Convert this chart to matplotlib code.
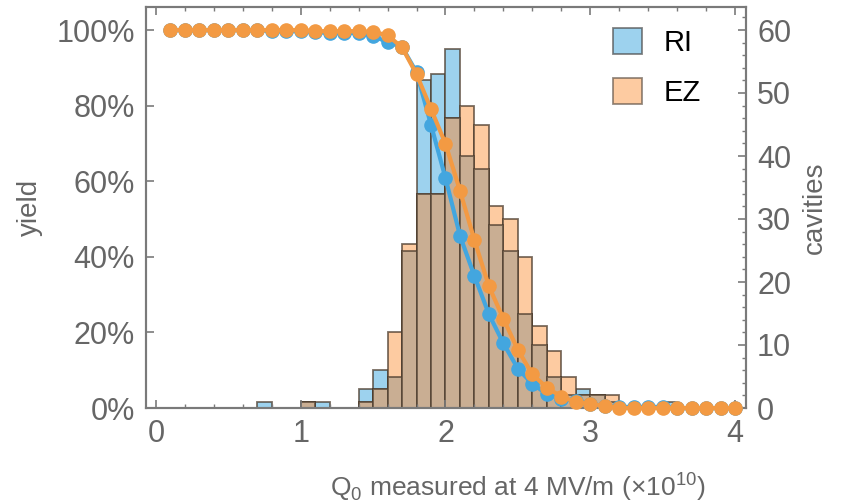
import numpy as np
import matplotlib
matplotlib.use("Agg")
import matplotlib.pyplot as plt
from matplotlib.ticker import MultipleLocator, FuncFormatter
from matplotlib.patches import Patch

plt.rcParams['font.family'] = ['Liberation Sans', 'DejaVu Sans']
plt.rcParams['mathtext.fontset'] = 'custom'
plt.rcParams['mathtext.rm'] = 'Liberation Sans'

# ---- data ----
bin_left = [round(0.1 * i, 1) for i in range(40)]
ri_counts = [0, 0, 0, 0, 0, 0, 0, 1, 0, 0, 1, 1, 0, 0, 3, 6, 5, 25, 52, 53,
             57, 40, 38, 29, 25, 15, 10, 5, 2, 3, 2, 1, 0, 0, 0, 1, 0, 0, 0, 0]
ez_counts = [0, 0, 0, 0, 0, 0, 0, 0, 0, 0, 1, 0, 0, 0, 1, 3, 12, 26, 34, 34,
             46, 48, 45, 32, 30, 24, 13, 9, 5, 2, 2, 2, 0, 0, 0, 0, 0, 0, 0, 0]

yield_x = [round(0.1 * i, 1) for i in range(1, 41)]
ri_yield = [100, 100, 100, 100, 100, 100, 100, 99.7, 99.7, 99.7,
            99.5, 99.2, 99.2, 99.2, 98.4, 96.8, 95.5, 88.8, 74.9, 60.8,
            45.6, 34.9, 24.8, 17.1, 10.4, 6.4, 3.7, 2.4, 1.9, 1.1,
            0.5, 0.3, 0.3, 0.3, 0.3, 0, 0, 0, 0, 0]
ez_yield = [100, 100, 100, 100, 100, 100, 100, 100, 100, 100,
            99.7, 99.7, 99.7, 99.7, 99.5, 98.6, 95.4, 88.3, 79.1, 69.9,
            57.5, 44.4, 32.2, 23.6, 15.4, 8.9, 5.4, 3.0, 1.6, 1.1,
            0.5, 0, 0, 0, 0, 0, 0, 0, 0, 0]

series_names = ['RI', 'EZ']
count_ticks = [0, 10, 20, 30, 40, 50, 60]
yield_ticks = [0, 20, 40, 60, 80, 100]
x_ticks = [0, 1, 2, 3, 4]

# ---- style ----
gray = '#666666'
spine_c = '#7a7a7a'
blue_face = '#9dd2ee'
orange_face = '#fdcba1'
overlap_face = '#c9ae93'
edge_c = (0.30, 0.24, 0.18, 0.75)
blue_line = '#43a6df'
orange_line = '#f39a43'

fig = plt.figure(figsize=(8.46, 5.04), dpi=100)
W, H = 846, 504
ax = fig.add_axes([146 / W, 1 - 408 / H, 600 / W, 401 / H])

# histogram on ax (right-hand counts axis)
ri = np.array(ri_counts)
ez = np.array(ez_counts)
ov = np.minimum(ri, ez)
bl = np.array(bin_left)
kw = dict(width=0.1, align='edge', edgecolor=edge_c, linewidth=1.3)
m = ri > 0
ax.bar(bl[m], ri[m], facecolor=blue_face, **kw)
m = ez > 0
ax.bar(bl[m], ez[m], facecolor=orange_face, **kw)
m = ov > 0
ax.bar(bl[m], ov[m], facecolor=overlap_face, **kw)

ax.set_xlim(-0.069, 4.076)
ax.set_ylim(0, 401 / 6.3)
ax.set_xticks(x_ticks)
ax.xaxis.set_minor_locator(MultipleLocator(0.2))

# yield curves on twin (left axis)
ax2 = ax.twinx()
ax.yaxis.tick_right()
ax.yaxis.set_label_position('right')
ax.set_yticks(count_ticks)
ax.yaxis.set_minor_locator(MultipleLocator(2))
ax2.yaxis.tick_left()
ax2.yaxis.set_label_position('left')
ax2.set_ylim(0, 401 / 3.78)
ax2.set_yticks(yield_ticks)
ax2.yaxis.set_major_formatter(FuncFormatter(lambda v, p: f'{int(v)}%'))
ax2.plot(yield_x, ri_yield, '-o', color=blue_line, lw=3, ms=9.5, clip_on=False, zorder=3)
ax2.plot(yield_x, ez_yield, '-o', color=orange_line, lw=3, ms=9.5, clip_on=False, zorder=4)

for a in (ax, ax2):
    for s in a.spines.values():
        s.set_color(spine_c)
        s.set_linewidth(1.5)
    a.tick_params(which='both', direction='in', colors=spine_c, labelcolor=gray,
                  labelsize=22)
    a.tick_params(which='major', length=6, width=1.2)
    a.tick_params(which='minor', length=3, width=1.0)
ax.tick_params(axis='x', which='both', top=True, pad=8)
ax.tick_params(axis='y', pad=8)
ax2.tick_params(axis='y', pad=8)

ax.set_xlabel('Q$_{\\rm 0}$ measured at 4 MV/m (×10$^{\\rm 10}$)', color=gray,
              fontsize=19)
ax.xaxis.set_label_coords((518 - 146) / 600, -(487 - 408) / 401)
ax.xaxis.label.set_va('center')
ax.set_ylabel('cavities', color=gray, fontsize=20)
ax.yaxis.set_label_coords((815 - 146) / 600, 0.5)
ax.yaxis.label.set_va('center')
ax2.set_ylabel('yield', color=gray, fontsize=20)
ax2.yaxis.set_label_coords((30 - 146) / 600, 0.5)
ax2.yaxis.label.set_va('center')

# legend
handles = [Patch(facecolor=blue_face, edgecolor=(0.3, 0.3, 0.3, 0.7), linewidth=1.3),
           Patch(facecolor=orange_face, edgecolor=(0.4, 0.35, 0.3, 0.7), linewidth=1.3)]
leg = ax2.legend(handles, series_names, loc='upper left',
                 bbox_to_anchor=((601 - 146) / 600, 1 - (16 - 7) / 401),
                 frameon=False, fontsize=21, handlelength=1.0, handleheight=1.0,
                 handletextpad=0.75, labelspacing=0.72, borderaxespad=0)

fig.savefig('out.png', dpi=100)
